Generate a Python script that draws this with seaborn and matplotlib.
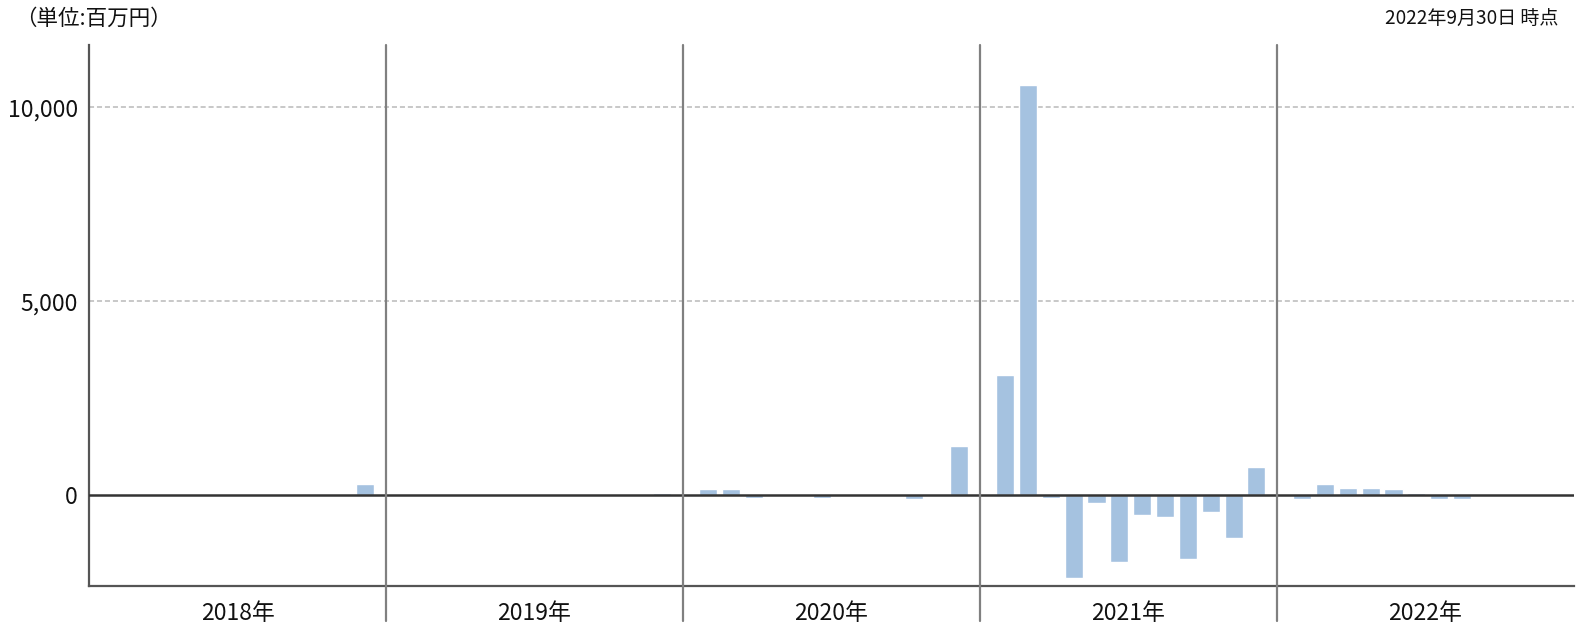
import matplotlib
matplotlib.use("Agg")
import matplotlib.pyplot as plt
import seaborn as sns
import pandas as pd

# ---- data ----
years = [2018, 2019, 2020, 2021, 2022]
year_labels = ["2018年", "2019年", "2020年", "2021年", "2022年"]
months = [1, 2, 3, 4, 5, 6, 7, 8, 9, 10, 11, 12]
values_2018 = [0, 0, 0, 0, 0, 0, 0, 0, 0, 0, 0, 290]
values_2019 = [0, 0, 0, 0, 0, 0, 0, 0, 0, 0, 0, 60]
values_2020 = [150, 150, -75, 0, 0, -75, 0, 0, 0, -100, 0, 1280]
values_2021 = [3090, 10580, -75, -2140, -200, -1730, -510, -570, -1650, -430, -1110, 740]
values_2022 = [-100, 280, 200, 200, 150, 70, -100, -100, 0]
y_ticks = [0, 5000, 10000]
y_tick_labels = ["0", "5,000", "10,000"]
unit_text = "（単位:百万円）"
date_text = "2022年9月30日 時点"

# ---- build table ----
SLOTS = 13
rows = []
for yi, vals in enumerate([values_2018, values_2019, values_2020, values_2021, values_2022]):
    for m, v in zip(months, vals):
        rows.append({"pos": yi * SLOTS + m + 0.1, "value": v, "year": years[yi], "month": m})
df = pd.DataFrame(rows)

sns.set_theme(style="white")
plt.rcParams["font.family"] = ["Noto Sans CJK JP", "DejaVu Sans"]

W, H = 1588, 639
fig = plt.figure(figsize=(W / 100, H / 100), dpi=100)
ax_top, ax_bot, ax_l, ax_r = 44.6, 586.4, 89, 1574
ax = fig.add_axes([ax_l / W, 1 - ax_bot / H, (ax_r - ax_l) / W, (ax_bot - ax_top) / H])

sns.barplot(data=df, x="pos", y="value", native_scale=True, width=0.79,
            color="#a5c2e0", saturation=1, ax=ax, zorder=3)

ax.set_xlim(0, SLOTS * len(years))
ax.set_ylim(-2350, 11620)

# grid
for t in y_ticks[1:]:
    ax.axhline(t, color="#c8c8c8", lw=1.4, linestyle=(0, (2.6, 1.5)), zorder=1)
# zero line
ax.axhline(0, color="#333333", lw=1.8, zorder=4)
# year separators
ext = 35 / (ax_bot - ax_top)
for yi in range(1, len(years)):
    ax.axvline(yi * SLOTS, ymin=-ext, ymax=1, color="#808080", lw=1.6,
               clip_on=False, zorder=5)

# spines
for s in ["top", "right"]:
    ax.spines[s].set_visible(False)
for s in ["left", "bottom"]:
    ax.spines[s].set_color("#555555")
    ax.spines[s].set_linewidth(1.6)

ax.set_yticks(y_ticks)
ax.set_yticklabels(y_tick_labels, fontsize=16.5, color="#111111")
ax.set_xticks([yi * SLOTS + SLOTS / 2 for yi in range(len(years))])
ax.set_xticklabels(year_labels, fontsize=16.5, color="#111111")
ax.tick_params(axis="y", length=0, pad=8)
ax.tick_params(axis="x", length=0, pad=11)
ax.set_xlabel("")
ax.set_ylabel("")

fig.text(15 / W, 1 - 19 / H, unit_text, fontsize=15.5, ha="left", va="center", color="#111111")
fig.text(1558 / W, 1 - 19 / H, date_text, fontsize=13.7, ha="right", va="center", color="#111111")

fig.savefig("out.png", dpi=100)
